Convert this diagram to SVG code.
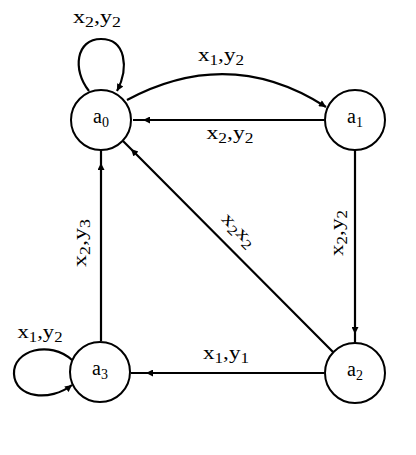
<svg xmlns="http://www.w3.org/2000/svg" width="416" height="455" viewBox="0 0 416 455">
<defs>
<marker id="arr" viewBox="0 0 10 10" refX="10" refY="5" markerWidth="9" markerHeight="7" markerUnits="userSpaceOnUse" orient="auto">
<path d="M0,0 L10,5 L0,10 z" fill="#000"/>
</marker>
<style>
.node circle{fill:#fff;stroke:#000;stroke-width:2}
.nl{font-family:"Liberation Serif","Times New Roman",serif;font-size:20px;fill:#000}
.lbl{font-family:"Liberation Serif","Times New Roman",serif;font-size:19px;fill:#000}
.sub{font-size:14px}
.edge{fill:none;stroke:#000;stroke-width:2.2}
.mid{marker-mid:url(#arr)}
.end{marker-end:url(#arr)}
</style>
</defs>
<rect width="416" height="455" fill="#fff"/>
<g id="connectors">
<path class="edge end" d="M89,91 C72,70 76,39 101,39 C126,39 129,68 117,91"/>
<path class="edge end" d="M127,100 Q230,45 326,107"/>
<path class="edge mid" d="M324,120 L143,120 L133,120"/>
<path class="edge mid" d="M355,150 L355,334 L355,343"/>
<path class="edge mid" d="M333,352 L131,149 L123,141"/>
<path class="edge mid" d="M324,373 L146,373 L131,373"/>
<path class="edge mid" d="M101,341 L101,163 L101,150"/>
<path class="edge end" d="M72,360 C50,340 13,350 14,374 C15,398 50,402 72,385"/>
</g>
<g id="edge-labels">
<text class="lbl" x="97" y="23" text-anchor="middle" textLength="48" lengthAdjust="spacingAndGlyphs">x<tspan class="sub" dy="4">2</tspan><tspan dy="-4">,y</tspan><tspan class="sub" dy="4">2</tspan></text>
<text class="lbl" x="221" y="61" text-anchor="middle" textLength="46" lengthAdjust="spacingAndGlyphs">x<tspan class="sub" dy="4">1</tspan><tspan dy="-4">,y</tspan><tspan class="sub" dy="4">2</tspan></text>
<text class="lbl" x="230" y="139" text-anchor="middle" textLength="47" lengthAdjust="spacingAndGlyphs">x<tspan class="sub" dy="4">2</tspan><tspan dy="-4">,y</tspan><tspan class="sub" dy="4">2</tspan></text>
<text class="lbl" x="226" y="359" text-anchor="middle" textLength="46" lengthAdjust="spacingAndGlyphs">x<tspan class="sub" dy="4">1</tspan><tspan dy="-4">,y</tspan><tspan class="sub" dy="4">1</tspan></text>
<text class="lbl" x="40" y="338" text-anchor="middle" textLength="45" lengthAdjust="spacingAndGlyphs">x<tspan class="sub" dy="4">1</tspan><tspan dy="-4">,y</tspan><tspan class="sub" dy="4">2</tspan></text>
<text class="lbl" transform="translate(86,243) rotate(-90)" text-anchor="middle" textLength="48" lengthAdjust="spacingAndGlyphs">x<tspan class="sub" dy="4">2</tspan><tspan dy="-4">,y</tspan><tspan class="sub" dy="4">3</tspan></text>
<text class="lbl" transform="translate(343,233) rotate(-90)" text-anchor="middle" textLength="46" lengthAdjust="spacingAndGlyphs">x<tspan class="sub" dy="4">2</tspan><tspan dy="-4">,y</tspan><tspan class="sub" dy="4">2</tspan></text>
<text class="lbl" transform="translate(235,234) rotate(45)" text-anchor="middle" textLength="40" lengthAdjust="spacingAndGlyphs">x<tspan class="sub" dy="4">2</tspan><tspan dy="-4">x</tspan><tspan class="sub" dy="4">2</tspan></text>
</g>
<g id="a0" class="node"><circle cx="101" cy="120" r="30"/><text class="nl" x="101" y="123" text-anchor="middle">a<tspan class="sub" dy="4">0</tspan></text></g>
<g id="a1" class="node"><circle cx="355" cy="120" r="30"/><text class="nl" x="355" y="123" text-anchor="middle">a<tspan class="sub" dy="4">1</tspan></text></g>
<g id="a2" class="node"><circle cx="355" cy="373" r="30"/><text class="nl" x="355" y="376" text-anchor="middle">a<tspan class="sub" dy="4">2</tspan></text></g>
<g id="a3" class="node"><circle cx="100" cy="372" r="30"/><text class="nl" x="100" y="375" text-anchor="middle">a<tspan class="sub" dy="4">3</tspan></text></g>
</svg>
